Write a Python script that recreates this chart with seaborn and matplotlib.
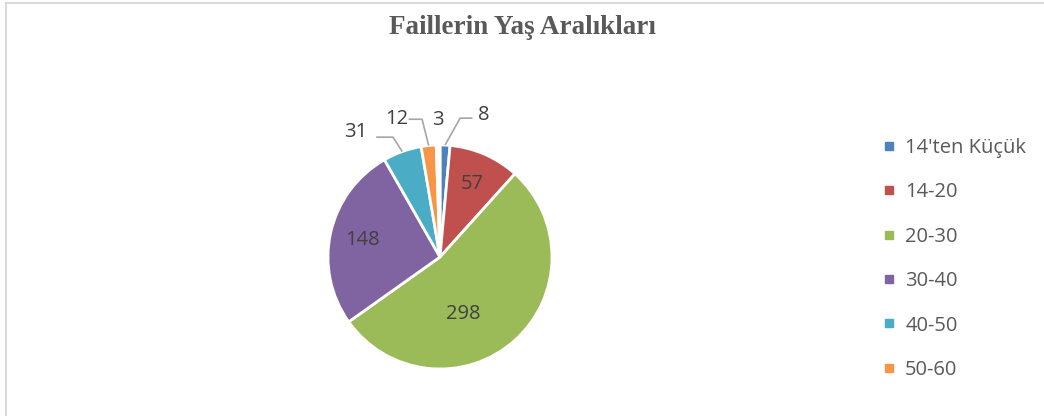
import numpy as np
import seaborn as sns
import matplotlib.pyplot as plt
from matplotlib.lines import Line2D

sns.set_style("white")
plt.rcParams['font.family'] = ['Open Sans', 'DejaVu Sans']

# data
groups = ["14'ten Küçük", "14-20", "20-30", "30-40", "40-50", "50-60", "60+"]
counts = [8, 57, 298, 148, 31, 12, 3]
colors = ["#4F81BD", "#C0504D", "#9BBB59", "#8064A2", "#4BACC6", "#F79646", "#FFFFFF"]
legend_groups = groups[:6]

fig = plt.figure(figsize=(10.44, 4.16), dpi=100)

# pie axes: centre at (440, 257) px, radius 112 px
W, H, R = 1044, 416, 112
ax = fig.add_axes([140 / W, (H - 407) / H, 600 / W, 300 / H])
wedges, _ = ax.pie(counts, colors=colors, startangle=90, counterclock=False,
                   radius=1, wedgeprops=dict(edgecolor="white", linewidth=2))
ax.set_xlim(-300 / R, 300 / R)
ax.set_ylim(-150 / R, 150 / R)
ax.set_aspect("equal")
ax.axis("off")

lab_color = "#404040"
lab_size = 14.5
# inside labels (radius, angle override or None)
inside = {1: (0.71, None), 2: (0.55, -68), 3: (0.71, None)}
for i, (r, ang) in inside.items():
    w = wedges[i]
    a = np.deg2rad(ang if ang is not None else (w.theta1 + w.theta2) / 2)
    ax.text(r * np.cos(a), r * np.sin(a), str(counts[i]), ha="center", va="center",
            fontsize=lab_size, color=lab_color)

# outside labels with leader lines: (text xy, elbow xy, line end xy) in data units
outside = {
    0: ((0.39, 1.27), (0.18, 1.24), (0.29, 1.24)),
    6: ((-0.02, 1.22), None, None),
    5: ((-0.39, 1.23), (-0.16, 1.23), (-0.28, 1.23)),
    4: ((-0.75, 1.12), (-0.42, 1.07), (-0.57, 1.07)),
}
for i, (txy, elbow, lend) in outside.items():
    w = wedges[i]
    a = np.deg2rad((w.theta1 + w.theta2) / 2)
    ax.text(txy[0], txy[1], str(counts[i]), ha="center", va="center",
            fontsize=lab_size, color=lab_color)
    if elbow is not None:
        ax.plot([1.0 * np.cos(a), elbow[0], lend[0]],
                [1.0 * np.sin(a), elbow[1], lend[1]],
                color="#A6A6A6", lw=1.2, solid_capstyle="butt")

# legend
handles = [Line2D([0], [0], marker="s", linestyle="", markersize=6,
                  markerfacecolor=c, markeredgecolor=c) for c in colors[:6]]
fig.legend(handles, legend_groups, loc="upper left", bbox_to_anchor=(875 / W, 1 - 130 / H),
           frameon=False, fontsize=14.5, labelcolor="#595959", handlelength=0.6,
           handletextpad=0.5, labelspacing=1.21, borderaxespad=0)

fig.text(0.5, 1 - 28 / H, "Faillerin Yaş Aralıkları", ha="center", va="center",
         fontsize=19.5, fontweight="bold", color="#595959", family="Liberation Serif")

# chart frame
fig.add_artist(Line2D([6 / W, 6 / W], [0, 1 - 3 / H], color="#D9D9D9", lw=1.5))
fig.add_artist(Line2D([6 / W, 1], [1 - 3 / H, 1 - 3 / H], color="#D9D9D9", lw=1.5))

fig.savefig("out.png", dpi=100)
